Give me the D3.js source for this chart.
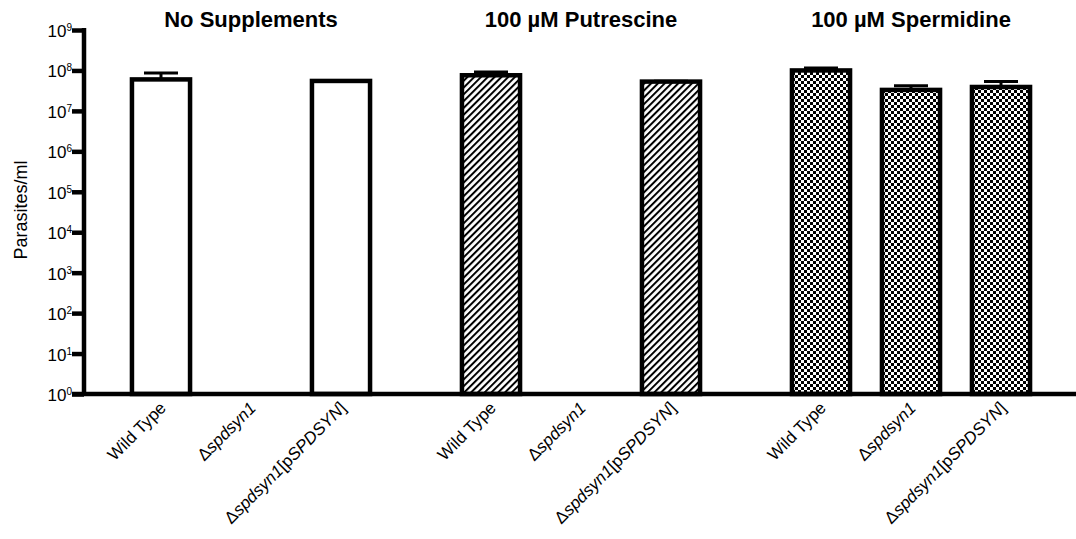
<!DOCTYPE html>
<html>
<head>
<meta charset="utf-8">
<script src="https://cdn.jsdelivr.net/npm/d3@7"></script>
<style>
  body { margin: 0; background: #fff; }
  text { font-family: "Liberation Sans", Arial, sans-serif; fill: #000; }
</style>
</head>
<body>
<div id="chart"></div>
<script>
// data
const groups = ["No Supplements", "100 µM Putrescine", "100 µM Spermidine"];
const strains = ["Wild Type", "Δspdsyn1", "Δspdsyn1[pSPDSYN]"];
const fills = ["none", "hatch", "checker"];
// mean parasites/ml per strain (null = no growth / no bar)
const noSupplements = [6.0e7, null, 5.5e7];
const putrescine = [7.6e7, null, 5.3e7];
const spermidine = [1.0e8, 3.3e7, 3.9e7];
// top of the error bar
const noSupplementsErr = [8.7e7, null, 5.6e7];
const putrescineErr = [9.1e7, null, 5.4e7];
const spermidineErr = [1.15e8, 4.2e7, 5.3e7];
const yTicks = [1, 1e1, 1e2, 1e3, 1e4, 1e5, 1e6, 1e7, 1e8, 1e9];

const means = [noSupplements, putrescine, spermidine];
const errs = [noSupplementsErr, putrescineErr, spermidineErr];
const rows = [];
groups.forEach((g, gi) => strains.forEach((s, si) => {
  rows.push({group: g, strain: s, fill: fills[gi], value: means[gi][si], err: errs[gi][si]});
}));

const w = 1076, h = 539;
const svg = d3.select("#chart").append("svg").attr("width", w).attr("height", h);

// patterns
const defs = svg.append("defs");
const hatch = defs.append("pattern").attr("id", "hatch")
  .attr("patternUnits", "userSpaceOnUse").attr("width", 4.8).attr("height", 10)
  .attr("patternTransform", "rotate(45)");
hatch.append("rect").attr("width", 4.8).attr("height", 10).attr("fill", "#fff");
hatch.append("line").attr("x1", 1).attr("x2", 1).attr("y1", 0).attr("y2", 10)
  .attr("stroke", "#000").attr("stroke-width", 2);

const checker = defs.append("pattern").attr("id", "checker")
  .attr("patternUnits", "userSpaceOnUse").attr("width", 6).attr("height", 6);
checker.append("rect").attr("width", 6).attr("height", 6).attr("fill", "#fff");
checker.append("rect").attr("width", 3).attr("height", 3).attr("fill", "#000");
checker.append("rect").attr("x", 3).attr("y", 3).attr("width", 3).attr("height", 3).attr("fill", "#000");

// scales
const x0 = d3.scaleBand().domain(groups).range([116, 1046]).paddingInner(60 / 330).paddingOuter(0);
const x1 = d3.scaleBand().domain(strains).range([0, x0.bandwidth()]).paddingInner(0.31).paddingOuter(0.155);
const y = d3.scaleLog().domain([1, 1e9]).range([394, 30]);

const cx = d => x0(d.group) + x1(d.strain) + x1.bandwidth() / 2;

// bars
const present = rows.filter(d => d.value != null);
svg.append("g").selectAll("rect")
  .data(present)
  .enter().append("rect")
  .attr("x", d => x0(d.group) + x1(d.strain) + 2)
  .attr("width", x1.bandwidth() - 4)
  .attr("y", d => y(d.value))
  .attr("height", d => y(1) - y(d.value))
  .attr("fill", d => d.fill == "none" ? "#fff" : "url(#" + d.fill + ")")
  .attr("stroke", "#000").attr("stroke-width", 4.5);

// error bars (upper only)
const eb = svg.append("g").attr("stroke", "#000").attr("stroke-width", 3);
eb.selectAll("line.v").data(present).enter().append("line").attr("class", "v")
  .attr("x1", cx).attr("x2", cx)
  .attr("y1", d => y(d.value)).attr("y2", d => y(d.err));
eb.selectAll("line.c").data(present).enter().append("line").attr("class", "c")
  .attr("x1", d => cx(d) - 17).attr("x2", d => cx(d) + 17)
  .attr("y1", d => y(d.err)).attr("y2", d => y(d.err));

// y axis
const yAxis = d3.axisLeft(y).tickValues(yTicks).tickSize(12).tickSizeOuter(0).tickPadding(0);
const gy = svg.append("g").attr("transform", "translate(84,0)").call(yAxis);
gy.select(".domain").attr("stroke-width", 4.5).attr("d", "M0," + (y(1e9) - 2) + "V" + y(1));
gy.selectAll(".tick line").attr("stroke-width", 4.5);
gy.selectAll(".tick text")
  .style("font-size", "17px").attr("dy", "0.38em")
  .text("10")
  .append("tspan").attr("dy", "-0.6em").style("font-size", "10px")
  .text(d => Math.round(Math.log10(d)));

// x axis line
svg.append("line")
  .attr("x1", 72).attr("x2", w).attr("y1", y(1)).attr("y2", y(1))
  .attr("stroke", "#000").attr("stroke-width", 4.5);

// x labels
const lbl = svg.append("g").selectAll("text").data(rows).enter().append("text")
  .attr("text-anchor", "end")
  .attr("transform", d => "translate(" + (cx(d) + 6) + "," + (y(1) + 15) + ") rotate(-45)")
  .style("font-size", "17px");
lbl.each(function(d) {
  const t = d3.select(this);
  if (d.strain == "Wild Type") { t.text(d.strain); return; }
  t.append("tspan").text("Δ");
  t.append("tspan").style("font-style", "italic").text("spdsyn1");
  if (d.strain.indexOf("[") >= 0) {
    t.append("tspan").text("[p");
    t.append("tspan").style("font-style", "italic").text("SPDSYN");
    t.append("tspan").text("]");
  }
});

// group titles
svg.append("g").selectAll("text").data(groups).enter().append("text")
  .attr("x", d => x0(d) + x0.bandwidth() / 2).attr("y", 27)
  .attr("text-anchor", "middle")
  .style("font-size", "22px").style("font-weight", "bold")
  .text(d => d);

// y title
svg.append("text")
  .attr("transform", "translate(27,210) rotate(-90)")
  .attr("text-anchor", "middle").style("font-size", "18px")
  .text("Parasites/ml");
</script>
</body>
</html>
